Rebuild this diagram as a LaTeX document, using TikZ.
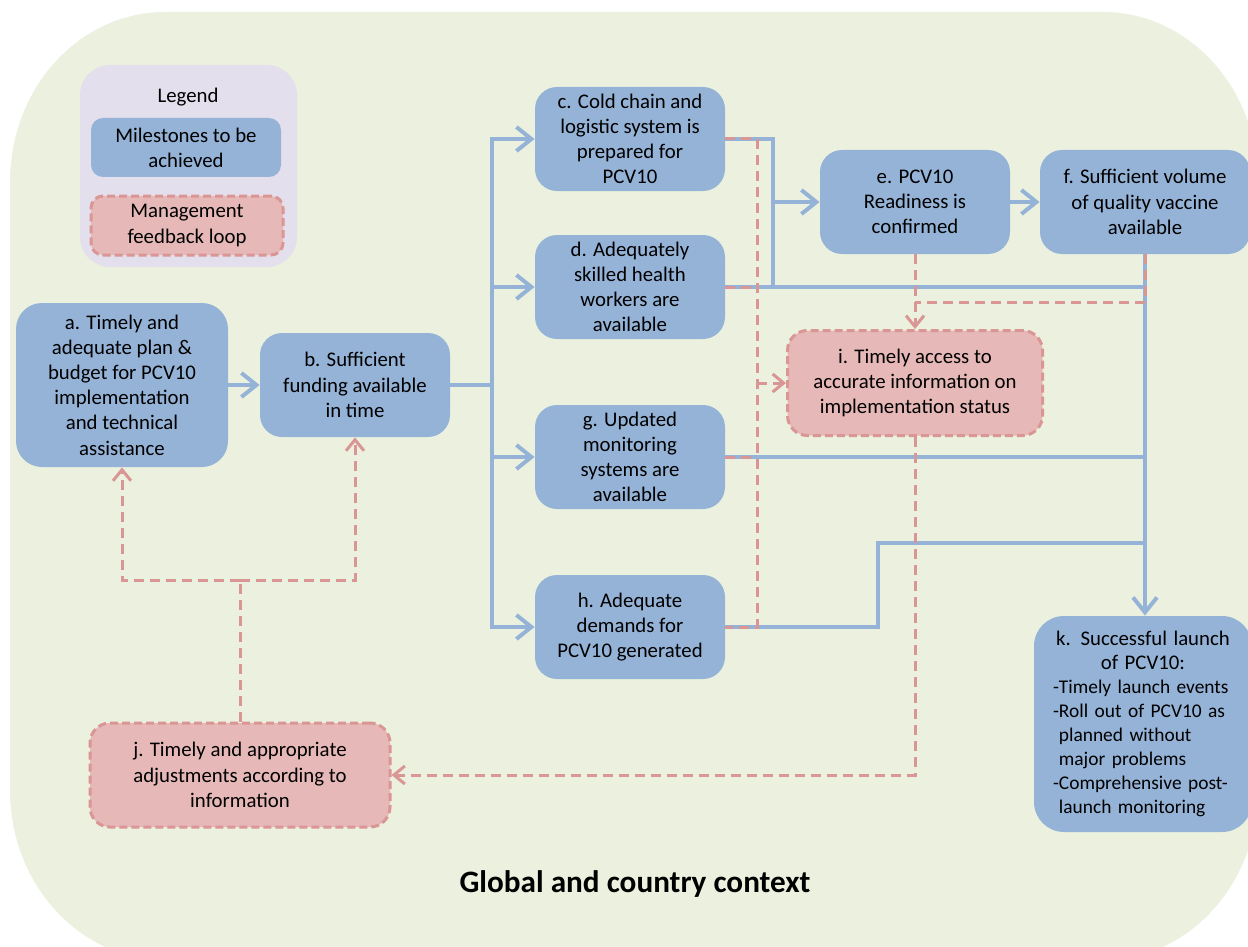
\documentclass[tikz,border=0pt]{standalone}
\usepackage{fontspec}
\setmainfont{Carlito}
\usetikzlibrary{positioning}
\usetikzlibrary{arrows.meta}

\definecolor{bggreen}{HTML}{EBF1DE}
\definecolor{legendlilac}{HTML}{E4DFEC}
\definecolor{msblue}{HTML}{95B3D7}
\definecolor{fbfill}{HTML}{E6B9B8}
\definecolor{fbline}{HTML}{D99694}

\tikzset{
	milestone/.style={fill=msblue, rounded corners=11pt, align=center, inner sep=2pt, font=\fontsize{10.4}{12.6}\selectfont},
	feedback/.style={fill=fbfill, draw=fbline, line width=1.5pt, dash pattern=on 4pt off 2pt, rounded corners=10pt, align=center, inner sep=2pt, font=\fontsize{10.4}{12.6}\selectfont},
	flow/.style={draw=msblue, line width=2pt},
	flowarrow/.style={flow, -{Straight Barb[length=7.5pt, width=12pt]}},
	fbpath/.style={draw=fbline, line width=1.5pt, dash pattern=on 5pt off 3pt},
	fbarrow/.style={fbpath, -{Straight Barb[length=5.5pt, width=9pt]}},
}

\begin{document}
\begin{tikzpicture}[x=0.5pt, y=-0.5pt]
				\clip (0,0) rectangle (1248,947);
				\fill[white] (0,0) rectangle (1248,947);
				\fill[bggreen] (165,12) .. controls (79.4,12) and (10,88.1) .. (10,182)
					-- (10,790) .. controls (10,883.9) and (79.4,960) .. (165,960)
					-- (1103,960) .. controls (1188.6,960) and (1258,883.9) .. (1258,790)
					-- (1258,182) .. controls (1258,88.1) and (1188.6,12) .. (1103,12) -- cycle;

				\node[fill=legendlilac, rounded corners=15pt, minimum width=108.5pt, minimum height=101pt] (legend) at (188.5,166) {};
				\node[font=\fontsize{10.4}{12.6}\selectfont] (legendtitle) at (188,97) {Legend};
				\node[milestone, minimum width=95pt, minimum height=29.5pt, rounded corners=6pt] (legendms) at (186,147.5) {Milestones to be\\achieved};
				\node[feedback, minimum width=96pt, minimum height=29.5pt, rounded corners=6pt] (legendfb) at (187,225.5) {Management\\feedback loop};

				\node[milestone, minimum width=106pt, minimum height=82pt, rounded corners=13pt] (a) at (122,385) {a. Timely and\\adequate plan \&\\budget for PCV10\\implementation\\and technical\\assistance};
				\node[milestone, minimum width=95pt, minimum height=52pt] (b) at (355,385) {b. Sufficient\\funding available\\in time};
				\node[milestone, minimum width=95pt, minimum height=52pt] (c) at (630,139) {c. Cold chain and\\logistic system is\\prepared for\\PCV10};
				\node[milestone, minimum width=95pt, minimum height=52pt] (d) at (630,287) {d. Adequately\\skilled health\\workers are\\available};
				\node[milestone, minimum width=95pt, minimum height=52pt] (g) at (630,457) {g. Updated\\monitoring\\systems are\\available};
				\node[milestone, minimum width=95pt, minimum height=52pt] (h) at (630,627) {h. Adequate\\demands for\\PCV10 generated};
				\node[milestone, minimum width=95pt, minimum height=52pt] (e) at (915,202) {e. PCV10\\Readiness is\\confirmed};
				\node[milestone, minimum width=105pt, minimum height=52pt] (f) at (1145,202) {f. Sufficient volume\\of quality vaccine\\available};
				\node[feedback, minimum width=127.5pt, minimum height=52.5pt] (i) at (915,383) {i. Timely access to\\accurate information on\\implementation status};
				\node[feedback, minimum width=150pt, minimum height=52pt] (j) at (240,775) {j. Timely and appropriate\\adjustments according to\\information};
				\node[milestone, minimum width=109pt, minimum height=108pt, rounded corners=15pt, text width=90pt, align=left, font=\fontsize{9.7}{12}\selectfont] (k) at (1143,724)
					{{\centering\fontsize{10.4}{12}\selectfont k. Successful launch\\of PCV10:\par}
					-Timely launch events\\-Roll out of PCV10 as\\\hphantom{-}planned without\\\hphantom{-}major problems\\-Comprehensive post-\\\hphantom{-}launch monitoring};

				\node[font=\bfseries\fontsize{15.6}{18}\selectfont] (title) at (635,884) {Global and country context};

				\node[shape=coordinate] (split) at (492,385) {};
				\node[shape=coordinate] (cd) at (773,287) {};
				\node[shape=coordinate] (ejoin) at (773,202) {};
				\node[shape=coordinate] (hstep) at (878,543) {};
				\node[shape=coordinate] (ibus) at (757,383) {};
				\node[shape=coordinate] (fi) at (915,302) {};
				\node[shape=coordinate] (jsplit) at (240,580) {};

				\draw[flowarrow] (a) -- (b);
				\draw[flow] (b) -- (split);
				\draw[flowarrow] (split) |- (c);
				\draw[flowarrow] (split) |- (d);
				\draw[flowarrow] (split) |- (g);
				\draw[flowarrow] (split) |- (h);
				\draw[flow] (c) -| (cd);
				\draw[flowarrow] (ejoin) -- (e);
				\draw[flowarrow] (e) -- (f);
				\draw[flow] (d) -- (d -| f.south);
				\draw[flow] (g) -- (g -| f.south);
				\draw[flow] (h) -| (hstep) -- (hstep -| f.south);
				\draw[flowarrow] (f.south) -- (f.south |- k.north);

				\draw[fbpath] (c.east) -- (c.east -| ibus) -- (h.east -| ibus) -- (h.east);
				\draw[fbpath] (d.east) -- (d.east -| ibus);
				\draw[fbpath] (g.east) -- (g.east -| ibus);
				\draw[fbarrow] (ibus) -- (i);
				\draw[fbarrow] (e) -- (i);
				\draw[fbpath] (f.south) |- (fi);
				\draw[fbarrow] (i) |- (j);
				\draw[fbpath] (j) -- (jsplit);
				\draw[fbarrow] (jsplit) -| (a);
				\draw[fbarrow] (jsplit) -| (b);
			\end{tikzpicture}
\end{document}
